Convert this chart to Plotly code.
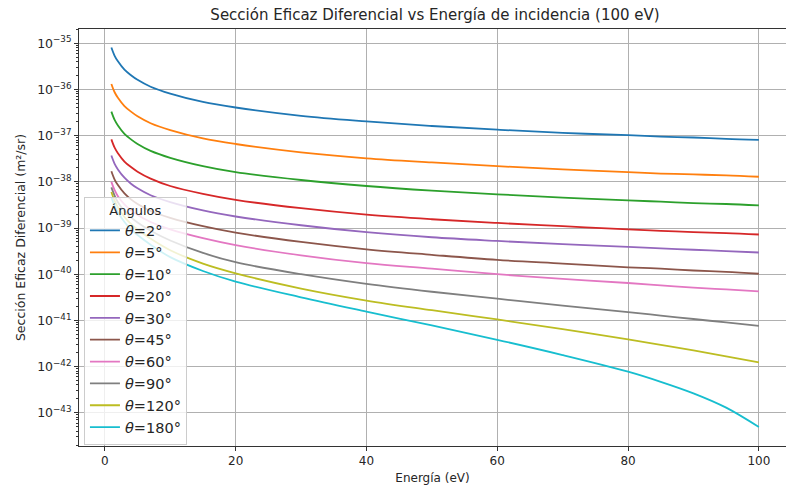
import plotly.graph_objects as go

energia = [1, 1.5, 2, 3, 4, 5, 7, 10, 15, 20, 30, 40, 50, 60, 70, 80, 85, 90, 95, 100]

# log10 of the differential cross-section (m^2/sr)
log_2 = [-35.09, -35.27, -35.39, -35.57, -35.69, -35.79, -35.94, -36.09, -36.27, -36.39,
         -36.57, -36.69, -36.79, -36.87, -36.94, -36.99, -37.02, -37.04, -37.07, -37.09]
log_5 = [-35.88, -36.06, -36.18, -36.36, -36.48, -36.58, -36.73, -36.88, -37.06, -37.18,
         -37.36, -37.49, -37.58, -37.66, -37.73, -37.79, -37.82, -37.84, -37.86, -37.89]
log_10 = [-36.48, -36.66, -36.78, -36.96, -37.08, -37.18, -37.33, -37.48, -37.66, -37.79,
          -37.96, -38.09, -38.19, -38.27, -38.34, -38.40, -38.43, -38.46, -38.48, -38.51]
log_20 = [-37.08, -37.26, -37.38, -37.56, -37.68, -37.78, -37.93, -38.09, -38.26, -38.39,
          -38.57, -38.71, -38.81, -38.89, -38.96, -39.03, -39.06, -39.09, -39.11, -39.14]
log_30 = [-37.43, -37.61, -37.73, -37.91, -38.04, -38.14, -38.29, -38.44, -38.62, -38.75,
          -38.94, -39.09, -39.20, -39.28, -39.35, -39.41, -39.44, -39.47, -39.50, -39.53]
log_45 = [-37.77, -37.95, -38.07, -38.25, -38.38, -38.48, -38.63, -38.78, -38.96, -39.10,
          -39.30, -39.46, -39.58, -39.69, -39.77, -39.85, -39.88, -39.92, -39.95, -39.99]
log_60 = [-38.00, -38.18, -38.31, -38.49, -38.62, -38.72, -38.87, -39.03, -39.22, -39.37,
          -39.59, -39.76, -39.88, -40.00, -40.10, -40.19, -40.24, -40.29, -40.33, -40.37]
log_90 = [-38.12, -38.30, -38.44, -38.63, -38.77, -38.88, -39.06, -39.27, -39.54, -39.74,
          -40.00, -40.21, -40.38, -40.53, -40.68, -40.82, -40.895, -40.97, -41.045, -41.12]
log_120 = [-38.22, -38.41, -38.55, -38.76, -38.91, -39.03, -39.23, -39.48, -39.77, -39.98,
           -40.31, -40.57, -40.78, -40.98, -41.19, -41.41, -41.53, -41.65, -41.78, -41.91]
log_180 = [-38.33, -38.52, -38.66, -38.87, -39.03, -39.15, -39.36, -39.63, -39.93, -40.16,
           -40.50, -40.81, -41.11, -41.42, -41.75, -42.11, -42.33, -42.58, -42.89, -43.31]

angulos = ["2", "5", "10", "20", "30", "45", "60", "90", "120", "180"]
series = [log_2, log_5, log_10, log_20, log_30, log_45, log_60, log_90, log_120, log_180]
colores = ["#1f77b4", "#ff7f0e", "#2ca02c", "#d62728", "#9467bd",
           "#8c564b", "#e377c2", "#7f7f7f", "#bcbd22", "#17becf"]

exponentes = list(range(-43, -34))
x_ticks = [0, 20, 40, 60, 80, 100]

fig = go.Figure()
for ang, vals, col in zip(angulos, series, colores):
    fig.add_trace(go.Scatter(
        x=energia, y=[10 ** v for v in vals], mode="lines",
        line=dict(color=col, width=1.8, shape="spline", smoothing=1.0),
        name=f"<i>θ</i>={ang}°"))

minor_vals = [k * 10.0 ** e for e in range(-44, -34) for k in range(2, 10)]

fig.update_layout(
    width=786, height=489,
    margin=dict(l=79, r=0, t=29, b=43),
    paper_bgcolor="white", plot_bgcolor="white",
    font=dict(family="DejaVu Sans", size=12, color="#262626"),
    title=dict(text="Sección Eficaz Diferencial vs Energía de incidencia (100 eV)",
               x=435 / 786, xanchor="center", y=1 - 15 / 489, yanchor="middle",
               font=dict(size=15, color="#262626")),
    showlegend=True,
    legend=dict(
        title=dict(text="Ángulos", side="top center", font=dict(size=13)),
        x=0.007, xanchor="left", y=0.598, yanchor="top",
        bgcolor="rgba(255,255,255,0.8)", bordercolor="#cccccc", borderwidth=1,
        font=dict(size=14.5), itemwidth=30, tracegroupgap=0),
    xaxis=dict(
        range=[-3.95, 104.15], tickvals=x_ticks, ticktext=[str(v) for v in x_ticks],
        showgrid=True, gridcolor="#b0b0b0", gridwidth=0.8,
        showline=True, linecolor="#333333", linewidth=1, mirror=True,
        ticks="outside", ticklen=4, tickcolor="#333333", zeroline=False,
        tickfont=dict(size=12),
        title=dict(text="Energía (eV)", font=dict(size=12), standoff=6)),
    yaxis=dict(
        type="log", range=[-43.72, -34.69],
        tickvals=[10.0 ** e for e in exponentes],
        ticktext=[f"10<sup>−{-e}</sup>" for e in exponentes],
        showgrid=True, gridcolor="#b0b0b0", gridwidth=0.8,
        showline=True, linecolor="#333333", linewidth=1,
        ticks="outside", ticklen=4, tickcolor="#333333", zeroline=False,
        tickfont=dict(size=12.5),
        minor=dict(tickmode="array", tickvals=minor_vals, ticks="outside",
                   ticklen=2, tickcolor="#333333", showgrid=False),
        title=dict(text="Sección Eficaz Diferencial (m²/sr)", font=dict(size=12.5), standoff=8)),
)

fig.write_html("out.html")
